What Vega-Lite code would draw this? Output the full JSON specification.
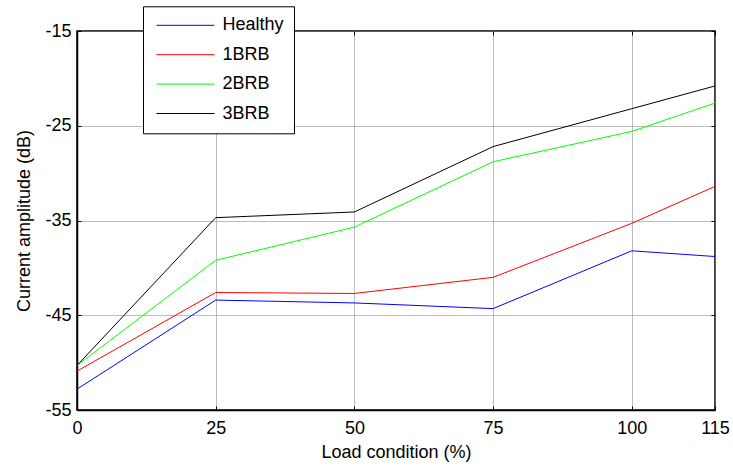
{
  "$schema": "https://vega.github.io/schema/vega-lite/v6.json",
  "width": 638,
  "height": 379,
  "autosize": {"type": "none"},
  "padding": {"left": 77, "top": 31, "right": 18, "bottom": 56},
  "background": "white",
  "config": {
    "font": "Liberation Sans",
    "view": {"stroke": "black", "strokeWidth": 1.5}
  },
  "data": {
    "values": [
      {"load": 0, "amp": -52.8, "case": "Healthy"},
      {"load": 25, "amp": -43.4, "case": "Healthy"},
      {"load": 50, "amp": -43.7, "case": "Healthy"},
      {"load": 75, "amp": -44.3, "case": "Healthy"},
      {"load": 100, "amp": -38.2, "case": "Healthy"},
      {"load": 115, "amp": -38.8, "case": "Healthy"},
      {"load": 0, "amp": -50.9, "case": "1BRB"},
      {"load": 25, "amp": -42.6, "case": "1BRB"},
      {"load": 50, "amp": -42.7, "case": "1BRB"},
      {"load": 75, "amp": -41.0, "case": "1BRB"},
      {"load": 100, "amp": -35.3, "case": "1BRB"},
      {"load": 115, "amp": -31.4, "case": "1BRB"},
      {"load": 0, "amp": -50.3, "case": "2BRB"},
      {"load": 25, "amp": -39.2, "case": "2BRB"},
      {"load": 50, "amp": -35.7, "case": "2BRB"},
      {"load": 75, "amp": -28.8, "case": "2BRB"},
      {"load": 100, "amp": -25.6, "case": "2BRB"},
      {"load": 115, "amp": -22.6, "case": "2BRB"},
      {"load": 0, "amp": -50.3, "case": "3BRB"},
      {"load": 25, "amp": -34.7, "case": "3BRB"},
      {"load": 50, "amp": -34.1, "case": "3BRB"},
      {"load": 75, "amp": -27.2, "case": "3BRB"},
      {"load": 100, "amp": -23.2, "case": "3BRB"},
      {"load": 115, "amp": -20.8, "case": "3BRB"}
    ]
  },
  "layer": [
    {
      "mark": {"type": "line", "opacity": 0},
      "encoding": {
        "x": {
          "field": "load",
          "type": "quantitative",
          "scale": {"domain": [0, 115], "nice": false, "zero": false},
          "axis": {
            "orient": "top",
            "title": null,
            "values": [0, 25, 50, 75, 100, 115],
            "labels": false,
            "grid": false,
            "domain": false,
            "tickSize": -4,
            "tickColor": "black"
          }
        },
        "y": {
          "field": "amp",
          "type": "quantitative",
          "scale": {"domain": [-55, -15], "nice": false, "zero": false},
          "axis": {
            "orient": "right",
            "title": null,
            "values": [-55, -45, -35, -25, -15],
            "labels": false,
            "grid": false,
            "domain": false,
            "tickSize": -4,
            "tickColor": "black"
          }
        }
      }
    },
    {
      "mark": {"type": "line", "strokeWidth": 1, "clip": true},
      "encoding": {
        "x": {
          "field": "load",
          "type": "quantitative",
          "scale": {"domain": [0, 115], "nice": false, "zero": false},
          "axis": {
            "orient": "bottom",
            "title": "Load condition (%)",
            "values": [0, 25, 50, 75, 100, 115],
            "labelExpr": "'' + datum.value",
            "titleFontSize": 18,
            "titleFontWeight": "normal",
            "titleColor": "black",
            "titlePadding": 6,
            "labelFontSize": 18,
            "labelColor": "black",
            "labelPadding": 13,
            "labelFlush": false,
            "tickSize": -4,
            "tickColor": "black",
            "domainColor": "black",
            "domainWidth": 1.5,
            "grid": true,
            "gridColor": "#7a7a7a",
            "gridDash": [1, 1],
            "gridOpacity": 1
          }
        },
        "y": {
          "field": "amp",
          "type": "quantitative",
          "scale": {"domain": [-55, -15], "nice": false, "zero": false},
          "axis": {
            "orient": "left",
            "title": "Current amplitude (dB)",
            "values": [-55, -45, -35, -25, -15],
            "labelExpr": "'' + datum.value",
            "titleFontSize": 18,
            "titleFontWeight": "normal",
            "titleColor": "black",
            "titlePadding": 11,
            "labelFontSize": 18,
            "labelColor": "black",
            "labelPadding": 10,
            "labelFlush": false,
            "tickSize": -4,
            "tickColor": "black",
            "domainColor": "black",
            "domainWidth": 1.5,
            "grid": true,
            "gridColor": "#7a7a7a",
            "gridDash": [1, 1],
            "gridOpacity": 1
          }
        },
        "color": {
          "field": "case",
          "type": "nominal",
          "sort": ["Healthy", "1BRB", "2BRB", "3BRB"],
          "scale": {"domain": ["Healthy", "1BRB", "2BRB", "3BRB"], "range": ["#0000FF", "#FF0000", "#00FF00", "#000000"]},
          "legend": {
            "title": null,
            "orient": "none",
            "legendX": 66,
            "legendY": -24.7,
            "fillColor": "white",
            "strokeColor": "black",
            "padding": 10,
            "symbolType": "M-6,0H6",
            "symbolSize": 93.4,
            "symbolOffset": 23.5,
            "symbolStrokeWidth": 1,
            "labelFontSize": 18,
            "labelColor": "black",
            "rowPadding": 11.4,
            "labelOffset": 28,
            "encode": {
              "symbols": {"update": {"stroke": {"scale": "color", "field": "value"}}}
            }
          }
        }
      }
    }
  ],
  "resolve": {"axis": {"x": "independent", "y": "independent"}}
}
